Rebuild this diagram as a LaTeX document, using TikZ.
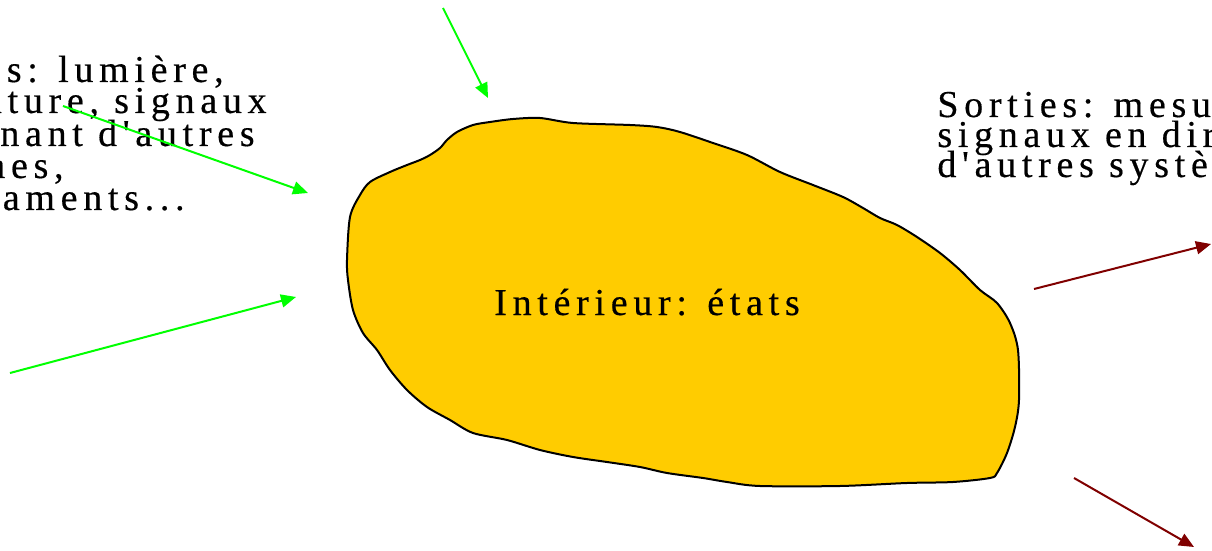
\documentclass[tikz,border=0pt]{standalone}
\usepackage{fontspec}
\setmainfont{Liberation Serif}
\newfontfamily\pixfont{Liberation Serif}[LetterSpace=15,FakeBold=0.4]
\usetikzlibrary{arrows.meta}
\definecolor{blobfill}{RGB}{255,204,0}
\definecolor{ingreen}{RGB}{0,255,0}
\definecolor{outred}{RGB}{128,0,0}
\tikzset{
  lbl/.style={inner sep=0pt, font=\pixfont\fontsize{19pt}{16pt}\selectfont},
  inarrow/.style={draw=ingreen, line width=1pt, -{Triangle[length=7.5pt,width=6.5pt]}},
  outarrow/.style={draw=outred, line width=1pt, -{Triangle[length=7.5pt,width=6.5pt]}},
}
\begin{document}
\begin{tikzpicture}[x=0.5pt,y=-0.5pt]
\useasboundingbox (0,0) rectangle (1212,551);
\clip (0,0) rectangle (1212,551);
% blob
\draw[fill=blobfill, line width=1pt] plot[smooth cycle, tension=0.5] coordinates {
(347,260) (350,217) (360,195) (370,182) (390,172) (407,165) (420,160) (430,155) (440,148) (447,140) (457,132) (473,125) (490,122) (513,119) (540,118) (573,123) (630,125) (657,127) (680,132) (713,143) (747,155) (780,172) (813,185) (843,197) (863,208) (880,218) (897,225) (917,237) (940,253) (960,270) (980,290) (997,303) (1010,323) (1018,350) (1019,400) (1015,427) (1007,453) (997,473) (990,478) (953,482) (907,483) (840,486) (760,486) (727,482) (703,478) (667,473) (640,467) (607,462) (573,457) (540,450) (507,440) (473,433) (450,420) (427,407) (407,390) (390,370) (377,350) (363,333) (353,310) (348,280)};
\node[lbl, anchor=base] (interieur) at (647,315) {Intérieur: états};
% left text
\node[lbl, anchor=base east] (in1) at (224,82) {Entrées: lumière,};
\node[lbl, anchor=base east] (in2) at (267,113) {température, signaux};
\node[lbl, anchor=base east] (in3) at (255,146) {provenant d'autres};
\node[lbl, anchor=base east] (in4) at (64,178) {systèmes,};
\node[lbl, anchor=base east] (in5) at (185,210) {médicaments...};
% right text
\node[lbl, anchor=base west] (out1) at (937,117) {Sorties: mesures,};
\node[lbl, anchor=base west] (out2) at (937,147) {signaux en direction};
\node[lbl, anchor=base west] (out3) at (937,177) {d'autres systèmes};
% arrows
\coordinate (g1s) at (443,8);   \coordinate (g1e) at (488,98);
\coordinate (g2s) at (63,106);  \coordinate (g2e) at (308,193);
\coordinate (g3s) at (10,373);  \coordinate (g3e) at (296,297);
\coordinate (r1s) at (1034,289);\coordinate (r1e) at (1211,244);
\coordinate (r2s) at (1074,478);\coordinate (r2e) at (1194,547);
\draw[inarrow] (g1s) -- (g1e);
\draw[inarrow] (g2s) -- (g2e);
\draw[inarrow] (g3s) -- (g3e);
\draw[outarrow] (r1s) -- (r1e);
\draw[outarrow] (r2s) -- (r2e);
\end{tikzpicture}
\end{document}
